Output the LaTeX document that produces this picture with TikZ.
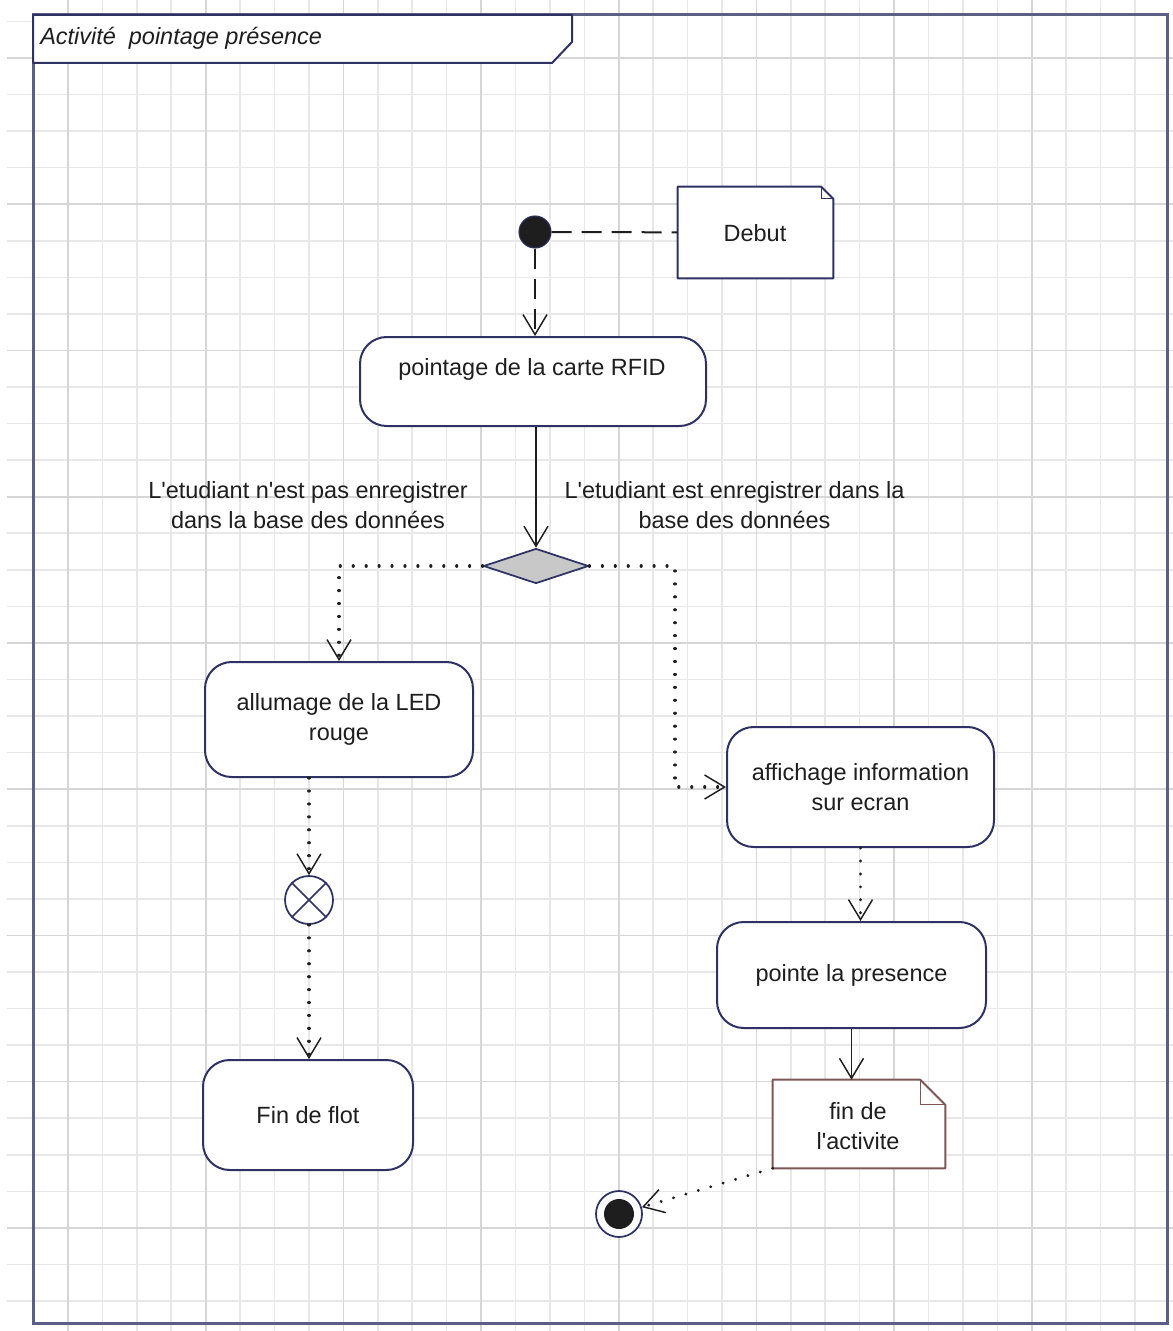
\documentclass[tikz,border=0pt]{standalone}
\usepackage{fontspec}
\newfontfamily\uifont{Liberation Sans}
\usetikzlibrary{arrows.meta,shapes.geometric,calc}

\definecolor{gridminor}{HTML}{E8E8E8}
\definecolor{gridmajor}{HTML}{D6D6D6}
\definecolor{framecol}{HTML}{5C5F85}
\definecolor{navy}{HTML}{2E3162}
\definecolor{notebrown}{HTML}{7E5656}
\definecolor{ink}{HTML}{1E1E1E}
\definecolor{decision}{HTML}{C8C8C8}

% folded-corner note outline drawn around an (invisible) node
\newcommand\drawnote[3]{%
  \draw[#3, line width=1.5pt, fill=white, line join=round]
    (#1.south west) -- (#1.north west) -- ([xshift=-#2]#1.north east)
    -- ([yshift=-#2]#1.north east) -- (#1.south east) -- cycle;
  \draw[#3, line width=1.1pt] ([xshift=-#2]#1.north east) |- ([yshift=-#2]#1.north east);}

\begin{document}
\begin{tikzpicture}[x=0.75pt,y=-0.75pt,
  txt/.style={font=\uifont\fontsize{17.6pt}{22.5pt}\selectfont, text=ink, align=center, inner sep=0pt},
  action/.style={draw=navy, line width=1.5pt, rounded corners=20pt, fill=white, inner sep=0pt,
    font=\uifont\fontsize{17.6pt}{22.5pt}\selectfont, text=ink, align=center},
  notebox/.style={inner sep=0pt},
  tip/.style={-{Straight Barb[length=15pt,width=18pt,line width=1.1pt]}},
  flowline/.style={draw=ink, line width=1.4pt},
  dashedflow/.style={draw=ink, line width=1.5pt, dash pattern=on 15pt off 7.5pt},
  dottedflow/.style={draw=ink, line width=2.3pt, line cap=round, dash pattern=on 0.1pt off 9.6pt},
  gridline/.style={line width=1.2pt},
]
\useasboundingbox (0,0) rectangle (1173,1331);
\fill[white] (0,0) rectangle (1173,1331);

% background grid
\foreach \k in {1,...,32}
  \draw[gridminor, gridline] (33.6+\k*34.42,0) -- (33.6+\k*34.42,1331);
\foreach \k in {0,...,34}
  \draw[gridminor, gridline] (7,58+\k*36.56) -- (1173,58+\k*36.56);
\foreach \k in {1,5,...,29}
  \draw[gridmajor, gridline] (33.6+\k*34.42,0) -- (33.6+\k*34.42,1331);
\foreach \k in {0,4,...,32}
  \draw[gridmajor, gridline] (7,58+\k*36.56) -- (1173,58+\k*36.56);
\draw[gridminor, gridline] (7,21.4) -- (33,21.4);

% activity frame and its title tab
\coordinate (frameNW) at (33,15);
\coordinate (frameSE) at (1167,1323);
\draw[framecol, line width=2.25pt] (frameNW) rectangle (frameSE);
\draw[navy, line width=1.5pt, fill=white, line join=round]
  (33,15) -- (572,15) -- (572,42) -- (552,63) -- (33,63) -- cycle;
\node[txt, anchor=west, font=\uifont\itshape\fontsize{17.6pt}{22.5pt}\selectfont] (title) at (40,38)
  {Activité\ \ pointage présence};

% initial node and its note
\node[circle, fill=ink, draw=navy, line width=0.8pt, minimum size=24pt, inner sep=0pt] (init) at (535,232) {};
\node[notebox, minimum width=116.25pt, minimum height=68.25pt] (debut) at (755.5,232.5) {};
\drawnote{debut}{9pt}{navy}
\node[txt] (debuttxt) at (755,233) {Debut};

% actions
\node[action, minimum width=259.5pt, minimum height=66.75pt] (rfid) at (533,381.5) {};
\node[txt] (rfidtxt) at (532,369) {pointage de la carte RFID};

\node[diamond, draw=navy, fill=decision, line width=1.3pt, shape aspect=3,
  minimum width=78.75pt, minimum height=26.25pt, inner sep=0pt] (dec) at (536,566) {};

\node[txt] (lblno) at (308,505) {L'etudiant n'est pas enregistrer\\dans la base des données};
\node[txt] (lblyes) at (734.5,505) {L'etudiant est enregistrer dans la\\base des données};

\node[action, minimum width=201pt, minimum height=86.25pt] (allu) at (339,719.5) {allumage de la LED\\rouge};
\node[action, minimum width=200.25pt, minimum height=90pt] (aff) at (860.5,787) {affichage information\\sur ecran};

\node[circle, draw=navy, line width=1.3pt, fill=white, minimum size=36pt, inner sep=0pt] (ff) at (309,900) {};
\draw[navy, line width=1.2pt] (ff.north west) -- (ff.south east) (ff.north east) -- (ff.south west);

\node[action, minimum width=157.5pt, minimum height=82.5pt] (flot) at (308,1115) {Fin de flot};
\node[action, minimum width=201.75pt, minimum height=79.5pt] (pres) at (851.5,975) {pointe la presence};

\node[notebox, minimum width=129pt, minimum height=66pt] (notefin) at (859,1124) {};
\drawnote{notefin}{18.75pt}{notebrown}
\node[txt] (notefintxt) at (858,1126) {fin de\\l'activite};

\node[circle, draw=navy, line width=1.3pt, fill=white, minimum size=34.5pt, inner sep=0pt] (fin) at (619,1214) {};
\fill[ink] (fin.center) circle[radius=11.25pt];

% control flows
\draw[dashedflow] (init) -- (debut);
\draw[dashedflow, tip] (init) -- (init |- rfid.north);
\draw[flowline, tip] (rfid.south -| dec) -- (dec.north);
\draw[dottedflow, tip] (dec.west) -| (allu.north);
\coordinate (bend) at (675,566);
\draw[dottedflow, tip] (dec.east) -- (bend) |- (aff.west);
\draw[dottedflow, tip] (allu.south -| ff) -- (ff.north);
\draw[dottedflow, tip] (ff.south) -- (ff.south |- flot.north);
\draw[dottedflow, tip] (aff.south) -- (aff.south |- pres.north);
\draw[flowline, tip] (pres.south) -- (pres.south |- notefin.north);
\draw[dottedflow, tip] (notefin.south west) -- (fin);
\end{tikzpicture}
\end{document}
